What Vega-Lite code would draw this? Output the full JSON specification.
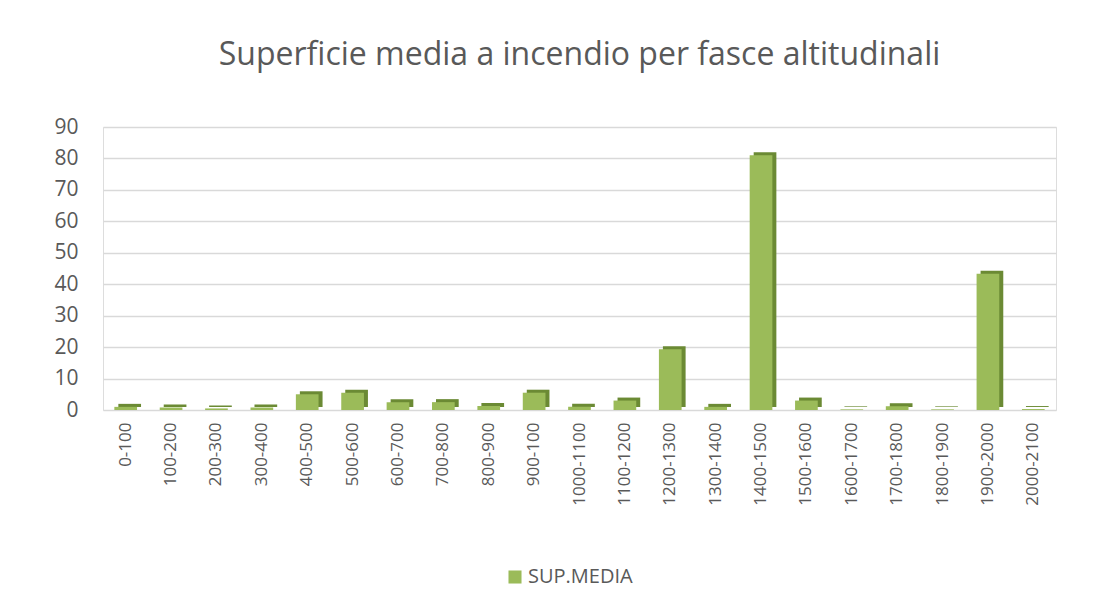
{
  "$schema": "https://vega.github.io/schema/vega-lite/v6.json",
  "autosize": {"type": "none"},
  "width": 953,
  "height": 283,
  "padding": {"left": 103, "top": 127, "right": 60, "bottom": 198},
  "background": "white",
  "title": {
    "text": "Superficie media a incendio per fasce altitudinali",
    "font": "Open Sans",
    "fontSize": 32,
    "fontWeight": "normal",
    "color": "#595959",
    "anchor": "middle",
    "offset": 44
  },
  "data": {
    "values": [
      {"fascia": "0-100", "serie": "SUP.MEDIA", "valore": 1.0},
      {"fascia": "100-200", "serie": "SUP.MEDIA", "valore": 0.8},
      {"fascia": "200-300", "serie": "SUP.MEDIA", "valore": 0.5},
      {"fascia": "300-400", "serie": "SUP.MEDIA", "valore": 0.8},
      {"fascia": "400-500", "serie": "SUP.MEDIA", "valore": 5.0},
      {"fascia": "500-600", "serie": "SUP.MEDIA", "valore": 5.5},
      {"fascia": "600-700", "serie": "SUP.MEDIA", "valore": 2.5},
      {"fascia": "700-800", "serie": "SUP.MEDIA", "valore": 2.5},
      {"fascia": "800-900", "serie": "SUP.MEDIA", "valore": 1.3},
      {"fascia": "900-100", "serie": "SUP.MEDIA", "valore": 5.5},
      {"fascia": "1000-1100", "serie": "SUP.MEDIA", "valore": 1.0},
      {"fascia": "1100-1200", "serie": "SUP.MEDIA", "valore": 3.0},
      {"fascia": "1200-1300", "serie": "SUP.MEDIA", "valore": 19.3},
      {"fascia": "1300-1400", "serie": "SUP.MEDIA", "valore": 1.0},
      {"fascia": "1400-1500", "serie": "SUP.MEDIA", "valore": 81.0},
      {"fascia": "1500-1600", "serie": "SUP.MEDIA", "valore": 3.0},
      {"fascia": "1600-1700", "serie": "SUP.MEDIA", "valore": 0.2},
      {"fascia": "1700-1800", "serie": "SUP.MEDIA", "valore": 1.2},
      {"fascia": "1800-1900", "serie": "SUP.MEDIA", "valore": 0.2},
      {"fascia": "1900-2000", "serie": "SUP.MEDIA", "valore": 43.3},
      {"fascia": "2000-2100", "serie": "SUP.MEDIA", "valore": 0.3}
    ]
  },
  "encoding": {
    "x": {
      "field": "fascia",
      "type": "nominal",
      "sort": null,
      "scale": {"paddingInner": 0.5, "paddingOuter": 0.25},
      "axis": {
        "title": null,
        "labelAngle": -90,
        "labelFont": "Open Sans",
        "labelFontSize": 17,
        "labelColor": "#595959",
        "labelPadding": 12,
        "ticks": false,
        "domain": false
      }
    },
    "y": {
      "field": "valore",
      "type": "quantitative",
      "scale": {"domain": [0, 90], "nice": false},
      "axis": {
        "title": null,
        "values": [0, 10, 20, 30, 40, 50, 60, 70, 80, 90],
        "labelFont": "Open Sans",
        "labelFontSize": 21,
        "labelColor": "#595959",
        "labelPadding": 25,
        "ticks": false,
        "domain": false,
        "grid": true,
        "gridColor": "#d9d9d9",
        "gridWidth": 1.5
      }
    }
  },
  "layer": [
    {
      "mark": {"type": "bar", "color": "#6b8a34", "xOffset": 4, "yOffset": -3},
      "encoding": {}
    },
    {
      "mark": {"type": "bar"},
      "encoding": {
        "color": {
          "field": "serie",
          "type": "nominal",
          "scale": {"range": ["#9bbb59"]},
          "legend": {
            "title": null,
            "orient": "none",
            "legendX": 402,
            "legendY": 440,
            "symbolType": "square",
            "symbolSize": 170,
            "labelFont": "Open Sans",
            "labelFontSize": 20,
            "labelColor": "#595959",
            "labelOffset": 3
          }
        }
      }
    }
  ]
}
